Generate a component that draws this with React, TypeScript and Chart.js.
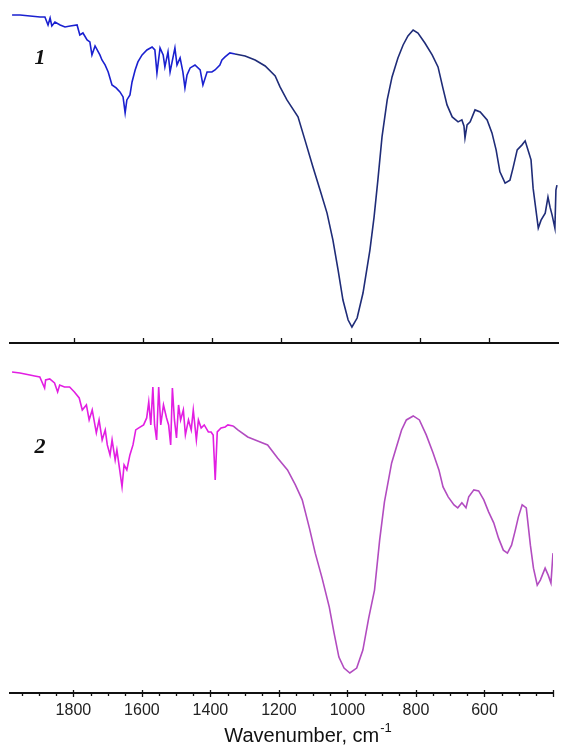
import { useEffect, useRef } from "react";
import { Chart, registerables } from "chart.js";

Chart.register(...registerables);

// ---- data ----
const X_MIN = 400;
const X_MAX = 1985;
const MAJOR_TICKS = [1800, 1600, 1400, 1200, 1000, 800, 600];
const AXIS_TITLE = "Wavenumber, cm";
const AXIS_TITLE_SUP = "-1";
const LABEL_1 = "1";
const LABEL_2 = "2";

// spectrum 1 (wavenumber, cm-1)
const WN1 = [1979,1956,1927,1898,1884,1875,1869,1864,1855,1840,1826,1811,1791,1783,1774,1762,1754,1748,1739,1725,1719,1710,1701,1690,1678,1667,1658,1652,1647,1638,1632,1623,1615,1603,1589,1574,1566,1560,1551,1542,1537,1528,1522,1508,1502,1493,1485,1479,1473,1464,1450,1435,1427,1415,1401,1392,1378,1372,1363,1349,1334,1305,1276,1247,1218,1204,1184,1152,1132,1109,1088,1068,1051,1036,1022,1007,996,981,964,944,932,921,909,894,880,863,848,834,819,805,785,764,747,733,721,706,689,678,672,669,663,654,640,625,605,591,579,568,553,539,530,518,504,495,487,478,472,463,457,449,437,429,423,417,409,406,403];
// spectrum 1 transmittance (%)
const T1 = [98.5,98.5,98.2,97.9,97.9,95.5,97.6,95.2,96.4,95.5,94.9,95.2,95.5,92.5,93.1,91.0,90.4,86.5,89.2,86.5,85.0,83.5,81.4,77.5,76.6,75.4,73.9,69.1,73.0,74.5,78.4,82.0,84.4,86.5,88.0,88.9,88.0,81.1,88.6,86.5,82.9,87.4,81.4,88.6,83.5,85.6,81.4,76.6,80.5,82.6,83.5,82.0,77.5,81.4,81.4,82.0,83.5,85.0,85.9,87.1,86.8,86.2,85.0,83.2,80.2,76.9,73.0,67.9,61.0,52.9,45.9,39.0,30.9,21.9,12.9,6.9,4.8,7.5,15.0,27.9,37.8,48.9,61.9,73.0,79.9,85.6,89.5,92.2,94.0,93.1,90.1,86.5,82.9,76.6,71.5,67.9,66.4,67.0,65.2,61.6,65.5,66.4,70.0,69.4,67.0,63.1,58.0,51.4,48.0,48.9,52.6,58.0,59.5,60.7,58.0,55.0,46.5,39.3,34.5,36.9,39.0,43.8,40.8,38.4,34.5,45.9,47.4];

// spectrum 2 (wavenumber, cm-1)
const WN2 = [1979,1956,1927,1913,1898,1884,1881,1869,1855,1846,1840,1826,1811,1797,1783,1774,1762,1754,1745,1733,1725,1716,1707,1701,1693,1687,1678,1673,1664,1658,1652,1644,1635,1626,1618,1609,1595,1586,1580,1574,1568,1563,1557,1551,1545,1537,1528,1522,1516,1511,1505,1499,1493,1487,1479,1473,1464,1456,1450,1441,1435,1427,1418,1406,1398,1392,1386,1380,1369,1357,1349,1334,1320,1291,1262,1233,1204,1175,1152,1132,1111,1094,1074,1053,1039,1025,1010,993,973,955,938,921,906,892,871,857,842,828,808,790,770,750,733,721,706,689,678,666,654,646,631,617,602,588,573,559,545,533,521,510,501,490,478,466,457,446,437,423,414,406,400];
// spectrum 2 transmittance (%)
const T2 = [96.4,96.1,95.5,95.2,94.9,91.6,94.0,94.3,93.1,90.4,92.5,91.9,91.9,90.4,88.6,85.0,86.5,82.0,85.0,78.1,82.0,76.0,79.0,74.5,71.5,76.0,70.0,73.0,66.4,61.9,68.5,67.0,71.5,74.5,79.0,79.6,80.5,82.6,87.4,80.5,91.9,80.5,76.0,91.9,80.5,86.5,82.6,80.5,74.5,91.6,82.0,76.6,86.5,82.0,85.0,77.5,82.0,79.0,85.0,76.0,82.0,79.6,80.5,78.4,78.4,77.5,64.0,78.4,79.6,79.9,80.5,80.2,79.0,76.9,75.7,74.5,70.6,67.0,62.5,58.0,49.5,42.0,34.5,25.8,18.0,10.8,7.5,6.0,7.5,12.9,22.5,30.9,45.9,57.4,69.1,73.9,79.0,82.0,83.2,82.0,77.5,72.1,67.0,61.9,58.9,56.5,55.6,57.1,55.6,58.9,61.0,60.7,58.0,54.4,51.1,46.5,42.9,42.0,44.4,48.9,52.9,56.5,55.6,44.4,37.5,32.4,33.9,37.5,35.4,33.0,42.0];

const NOISY_FROM = 1340;

function pairs(xs: number[], ys: number[]) {
  const n = Math.min(xs.length, ys.length);
  const out: { x: number; y: number }[] = [];
  for (let i = 0; i < n; i++) out.push({ x: xs[i], y: ys[i] });
  return out;
}

const tickMarks = (mode: "top" | "bottom") => ({
  id: "tickMarks_" + mode,
  afterDraw(chart: any) {
    const s = chart.scales.x;
    const ctx = chart.ctx;
    const y = chart.chartArea.bottom;
    ctx.save();
    ctx.strokeStyle = "#111";
    ctx.lineWidth = 1.3;
    ctx.beginPath();
    if (mode === "top") {
      for (const v of MAJOR_TICKS) {
        const px = Math.round(s.getPixelForValue(v)) + 0.5;
        ctx.moveTo(px, y);
        ctx.lineTo(px, y - 5);
      }
    } else {
      for (const t of s.ticks) {
        const v = t.value;
        const px = Math.round(s.getPixelForValue(v)) + 0.5;
        if (v % 200 === 0) {
          ctx.moveTo(px, y - 3);
          ctx.lineTo(px, y + 4);
        } else {
          ctx.moveTo(px, y);
          ctx.lineTo(px, y + 3);
        }
      }
    }
    ctx.stroke();
    ctx.restore();
  },
});

const panelLabel = (text: string, dy: number) => ({
  id: "panelLabel_" + text,
  afterDraw(chart: any) {
    const ctx = chart.ctx;
    ctx.save();
    ctx.font = 'italic bold 22px "Liberation Serif", "DejaVu Serif", serif';
    ctx.fillStyle = "#111";
    ctx.textAlign = "center";
    ctx.textBaseline = "middle";
    ctx.fillText(text, chart.chartArea.left + 30, dy);
    ctx.restore();
  },
});

const axisTitle = {
  id: "axisTitle",
  afterDraw(chart: any) {
    const ctx = chart.ctx;
    ctx.save();
    ctx.fillStyle = "#111";
    ctx.textBaseline = "alphabetic";
    ctx.textAlign = "left";
    ctx.font = '20px "Liberation Sans", Arial, sans-serif';
    const w = ctx.measureText(AXIS_TITLE).width;
    ctx.font = '13px "Liberation Sans", Arial, sans-serif';
    const w2 = ctx.measureText(AXIS_TITLE_SUP).width;
    const cx = 308;
    const x0 = cx - (w + w2 + 1) / 2;
    const base = chart.height - 3;
    ctx.font = '20px "Liberation Sans", Arial, sans-serif';
    ctx.fillText(AXIS_TITLE, x0, base);
    ctx.font = '13px "Liberation Sans", Arial, sans-serif';
    ctx.fillText(AXIS_TITLE_SUP, x0 + w + 1, base - 10);
    ctx.restore();
  },
};

function makeConfig(
  data: { x: number; y: number }[],
  smoothColor: string,
  noisyColor: string,
  bottom: boolean,
  label: string,
  labelY: number
): any {
  return {
    type: "line",
    data: {
      datasets: [
        {
          data,
          borderColor: smoothColor,
          borderWidth: 1.6,
          pointRadius: 0,
          tension: 0,
          fill: false,
          segment: {
            borderColor: (c: any) =>
              c.p0.parsed.x > NOISY_FROM ? noisyColor : smoothColor,
          },
        },
      ],
    },
    options: {
      animation: false,
      responsive: false,
      maintainAspectRatio: false,
      devicePixelRatio: 1,
      layout: { padding: { left: 10, right: 3, top: 10, bottom: 0 } },
      plugins: { legend: { display: false }, tooltip: { enabled: false } },
      scales: {
        x: {
          type: "linear",
          reverse: true,
          min: X_MIN,
          max: X_MAX,
          grid: { display: false, drawTicks: false },
          border: { display: true, color: "#111", width: 2 },
          afterFit: (s: any) => {
            s.height = bottom ? 52 : 7;
          },
          ticks: bottom
            ? {
                display: true,
                stepSize: 50,
                autoSkip: false,
                maxRotation: 0,
                minRotation: 0,
                includeBounds: false,
                padding: 8,
                color: "#222",
                font: { family: '"Liberation Sans", Arial, sans-serif', size: 16 },
                callback: (v: number) => (MAJOR_TICKS.includes(v) ? String(v) : ""),
              }
            : { display: false, stepSize: 200, includeBounds: false },
        },
        y: { display: false, min: 0, max: 100 },
      },
    },
    plugins: [
      tickMarks(bottom ? "bottom" : "top"),
      panelLabel(label, labelY),
      ...(bottom ? [axisTitle] : []),
    ],
  };
}

export default function App() {
  const ref1 = useRef<HTMLCanvasElement>(null);
  const ref2 = useRef<HTMLCanvasElement>(null);

  useEffect(() => {
    const c1 = new Chart(
      ref1.current as HTMLCanvasElement,
      makeConfig(pairs(WN1, T1), "#1f2c78", "#1a20d0", false, LABEL_1, 58)
    );
    const c2 = new Chart(
      ref2.current as HTMLCanvasElement,
      makeConfig(pairs(WN2, T2), "#b24cc0", "#e21ee2", true, LABEL_2, 97)
    );
    return () => {
      c1.destroy();
      c2.destroy();
    };
  }, []);

  return (
    <div
      style={{
        position: "absolute",
        left: 0,
        top: 0,
        width: 561,
        height: 745,
        background: "#fff",
      }}
    >
      <canvas
        ref={ref1}
        width={561}
        height={350}
        style={{ display: "block", width: 561, height: 350 }}
      />
      <canvas
        ref={ref2}
        width={561}
        height={395}
        style={{ display: "block", width: 561, height: 395 }}
      />
    </div>
  );
}
